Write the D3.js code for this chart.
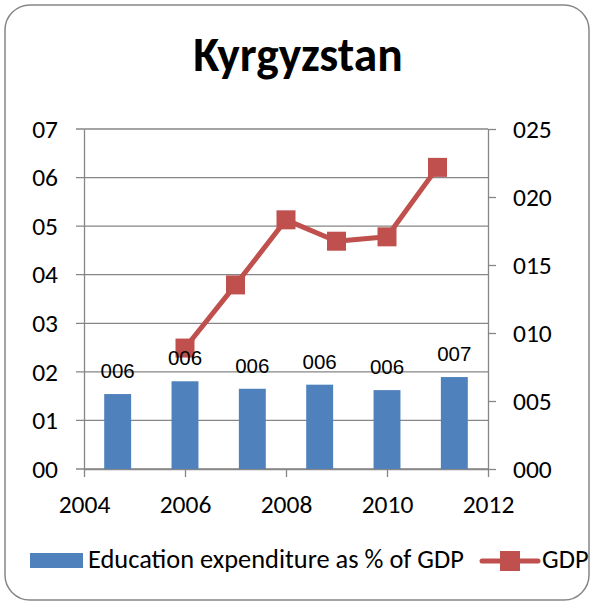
<!DOCTYPE html>
<html>
<head>
<meta charset="utf-8">
<script src="https://cdn.jsdelivr.net/npm/d3@7.9.0/dist/d3.min.js"></script>
<style>
  html, body { margin: 0; padding: 0; background: #fff; }
  svg { display: block; }
  text { font-family: Carlito, Lato, 'Liberation Sans', sans-serif; fill: #000; }
</style>
</head>
<body>
<svg id="chart" width="590" height="602"></svg>
<script>
// Data
const title = 'Kyrgyzstan';
const gdpYears = [2006, 2007, 2008, 2009, 2010, 2011];
const gdpValues = [0.249, 0.379, 0.513, 0.469, 0.478, 0.621];
const eduCategories = ['2006', '2007', '2008', '2009', '2010', '2011'];
const eduValues = [0.0551, 0.0645, 0.059, 0.062, 0.058, 0.0676];
const eduLabels = ['006', '006', '006', '006', '006', '007'];
const xTicks = [2004, 2006, 2008, 2010, 2012];
const leftTicks = [0, 0.1, 0.2, 0.3, 0.4, 0.5, 0.6, 0.7];
const leftTickLabels = ['00', '01', '02', '03', '04', '05', '06', '07'];
const rightTicks = [0, 0.05, 0.1, 0.15, 0.2, 0.25];
const rightTickLabels = ['000', '005', '010', '015', '020', '025'];
const seriesNames = ['Education expenditure as % of GDP', 'GDP'];

const blue = '#4F81BD';
const red = '#C0504D';
const grey = '#868686';

const svg = d3.select('#chart');

// Chart frame
svg.append('rect')
  .attr('x', 5).attr('y', 5)
  .attr('width', 584).attr('height', 595)
  .attr('rx', 25).attr('ry', 25)
  .attr('fill', '#fff')
  .attr('stroke', grey)
  .attr('stroke-width', 1.5);

// Scales
const plot = { left: 84, right: 488, top: 129, bottom: 469 };
const x = d3.scaleLinear().domain([2004, 2012]).range([plot.left, plot.right]);
const yLeft = d3.scaleLinear().domain([0, 0.7]).range([plot.bottom, plot.top]);
const yRight = d3.scaleLinear().domain([0, 0.25]).range([plot.bottom, plot.top]);
const band = d3.scaleBand()
  .domain(eduCategories)
  .range([plot.left, plot.right])
  .paddingInner(0.6)
  .paddingOuter(0.3);

// Title
svg.append('text')
  .attr('x', 298).attr('y', 71)
  .attr('text-anchor', 'middle')
  .style('font-size', '47.5px')
  .style('font-weight', 'bold')
  .text(title);

// Gridlines
svg.append('g')
  .selectAll('line')
  .data(leftTicks)
  .join('line')
  .attr('x1', plot.left - 8).attr('x2', plot.right)
  .attr('y1', (d) => yLeft(d)).attr('y2', (d) => yLeft(d))
  .attr('stroke', grey).attr('stroke-width', 1.3);

// Left axis
const leftAxis = svg.append('g')
  .attr('transform', `translate(${plot.left},0)`)
  .call(d3.axisLeft(yLeft).tickValues(leftTicks)
    .tickFormat((d, i) => leftTickLabels[i]).tickSize(0).tickPadding(26));
leftAxis.select('.domain').attr('stroke', grey).attr('stroke-width', 1.3);

// Right axis
const rightAxis = svg.append('g')
  .attr('transform', `translate(${plot.right},0)`)
  .call(d3.axisRight(yRight).tickValues(rightTicks)
    .tickFormat((d, i) => rightTickLabels[i]).tickSize(8).tickPadding(17).tickSizeOuter(0));
rightAxis.select('.domain').attr('stroke', grey).attr('stroke-width', 1.3);
rightAxis.selectAll('line').attr('stroke', grey).attr('stroke-width', 1.3);

// Bottom axis
const bottomAxis = svg.append('g')
  .attr('transform', `translate(0,${plot.bottom})`)
  .call(d3.axisBottom(x).tickValues(xTicks).tickFormat(d3.format('d'))
    .tickSize(8).tickPadding(18).tickSizeOuter(0));
bottomAxis.select('.domain').attr('stroke', grey).attr('stroke-width', 1.3);
bottomAxis.selectAll('line').attr('stroke', grey).attr('stroke-width', 1.3);

svg.selectAll('.tick text')
  .attr('font-family', null)
  .attr('font-size', null)
  .style('font-size', '25.5px')
  .attr('fill', '#000');

// Bars (secondary axis)
svg.append('g')
  .selectAll('rect')
  .data(eduValues)
  .join('rect')
  .attr('x', (d, i) => band(eduCategories[i]))
  .attr('width', band.bandwidth())
  .attr('y', (d) => yRight(d))
  .attr('height', (d) => plot.bottom - yRight(d))
  .attr('fill', blue);

// GDP line (primary axis)
const line = d3.line()
  .x((d, i) => x(gdpYears[i]))
  .y((d) => yLeft(d));

svg.append('path')
  .datum(gdpValues)
  .attr('d', line)
  .attr('fill', 'none')
  .attr('stroke', red)
  .attr('stroke-width', 5)
  .attr('stroke-linejoin', 'round');

const marker = 19;
svg.append('g')
  .selectAll('rect')
  .data(gdpValues)
  .join('rect')
  .attr('x', (d, i) => x(gdpYears[i]) - marker / 2)
  .attr('y', (d) => yLeft(d) - marker / 2)
  .attr('width', marker).attr('height', marker)
  .attr('fill', red);

// Bar labels
svg.append('g')
  .selectAll('text')
  .data(eduValues)
  .join('text')
  .attr('x', (d, i) => band(eduCategories[i]) + band.bandwidth() / 2)
  .attr('y', (d) => yRight(d) - 16)
  .attr('text-anchor', 'middle')
  .style('font-family', "'Liberation Sans', Arial, sans-serif")
  .style('font-size', '20.5px')
  .text((d, i) => eduLabels[i]);

// Legend
const legend = svg.append('g');
legend.append('rect')
  .attr('x', 30).attr('y', 553)
  .attr('width', 53).attr('height', 15)
  .attr('fill', blue);
legend.append('text')
  .attr('x', 88).attr('y', 567.5)
  .style('font-size', '26.4px')
  .text(seriesNames[0]);
legend.append('line')
  .attr('x1', 482).attr('x2', 538)
  .attr('y1', 561).attr('y2', 561)
  .attr('stroke', red).attr('stroke-width', 5)
  .attr('stroke-linecap', 'round');
legend.append('rect')
  .attr('x', 500).attr('y', 551)
  .attr('width', 20).attr('height', 20)
  .attr('fill', red);
legend.append('text')
  .attr('x', 542).attr('y', 567.5)
  .style('font-size', '26.4px')
  .text(seriesNames[1]);
</script>
</body>
</html>
